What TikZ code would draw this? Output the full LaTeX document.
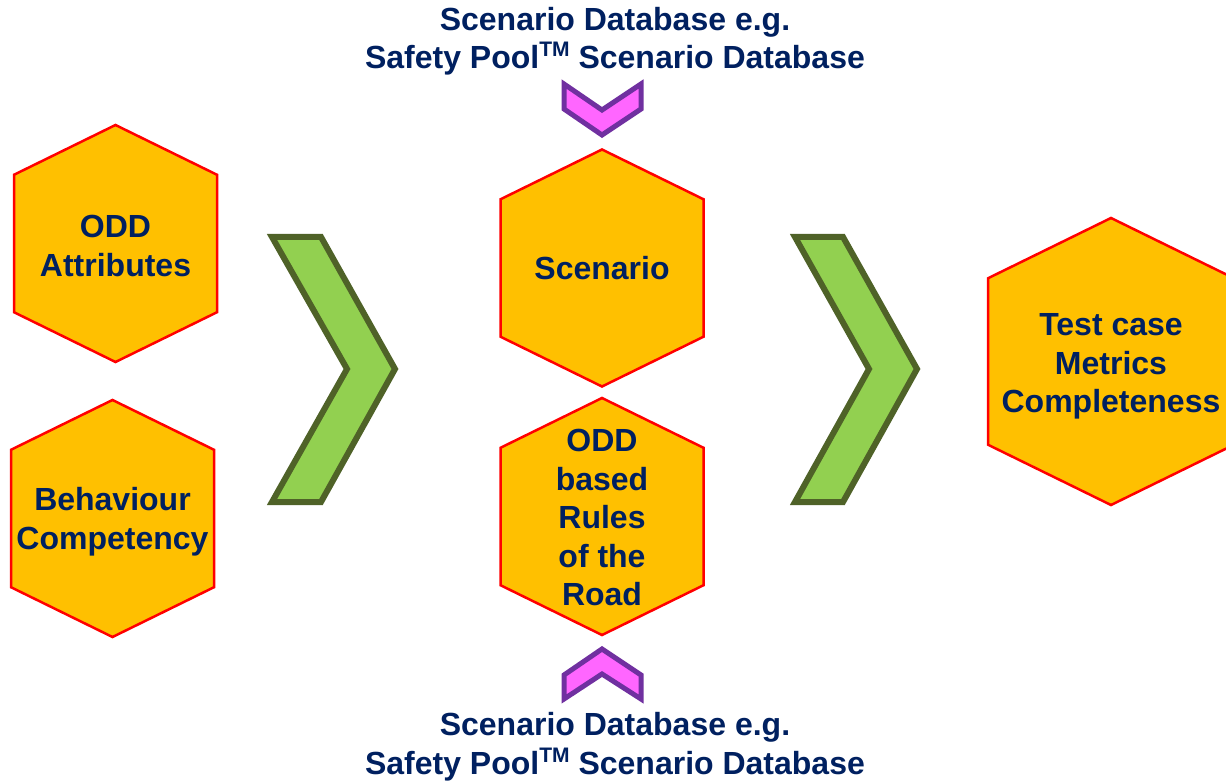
\documentclass[tikz,border=0pt]{standalone}
\usepackage{fontspec}
\setmainfont{Liberation Sans}
\usetikzlibrary{calc,backgrounds}
\definecolor{navy}{HTML}{002060}
\definecolor{hexfill}{HTML}{FFC000}
\definecolor{hexred}{HTML}{FF0000}
\definecolor{leaf}{HTML}{92D050}
\definecolor{olive}{HTML}{4F6228}
\definecolor{pinkfill}{HTML}{FF66FF}
\definecolor{plum}{HTML}{7030A0}
\newcommand\sptm{\raisebox{.36em}{\fontsize{21}{21}\selectfont TM}}

\begin{document}
\begin{tikzpicture}[x=1pt,y=-1pt,every node/.style={text=navy,font=\bfseries\fontsize{32}{38.5}\selectfont,align=center,inner sep=0pt,outer sep=0pt},
hexcell/.style={minimum width=203pt,minimum height=237pt},
bighex/.style={minimum width=246pt,minimum height=287pt},
hexline/.style={draw=hexred,fill=hexfill,line width=2.5pt},
bigarrow/.style={draw=olive,fill=leaf,line width=6pt},
smallarrow/.style={draw=plum,fill=pinkfill,line width=5pt}]
\useasboundingbox (0,0) rectangle (1226,783);
\node [hexcell,label={[yshift=-2.5pt]center:{ODD\\Attributes}}] (odd) at (115.5,243.5) {};
\node [hexcell,label={[yshift=-3pt]center:{Behaviour\\Competency}}] (behav) at (112.5,518.5) {};
\node [hexcell,label={center:Scenario}] (scen) at (602,268) {};
\node [hexcell,label={[yshift=-1pt]center:{ODD\\based\\Rules\\of the\\Road}}] (rules) at (602,516.5) {};
\node [bighex,label={[yshift=-5pt]center:{Test case\\Metrics\\Completeness}}] (test) at (1111,361.5) {};
\node (topdb) at (615,41) {Scenario Database e.g.\\Safety Pool\sptm{} Scenario Database};
\node (botdb) at (615,746.5) {Scenario Database e.g.\\Safety Pool\sptm{} Scenario Database};
% hexagons behind the text
\begin{scope}[on background layer]
\foreach \n in {odd,behav,scen,rules,test}
  \draw [hexline] (\n.north) -- ($(\n.north east)!.21!(\n.south east)$) -- ($(\n.north east)!.79!(\n.south east)$)
    -- (\n.south) -- ($(\n.north west)!.79!(\n.south west)$) -- ($(\n.north west)!.21!(\n.south west)$) -- cycle;
\end{scope}
% chevrons
\draw [bigarrow] (272,237) -- (321,237) -- (395,369) -- (321,502) -- (272,502) -- (347,369) -- cycle;
\draw [bigarrow] (795,237) -- (843,237) -- (917,369) -- (843,502) -- (795,502) -- (869,369) -- cycle;
\draw [smallarrow] (564,84) -- (602,110) -- (641,84) -- (641,109) -- (602,135) -- (564,109) -- cycle;
\draw [smallarrow] (602,649) -- (641,675) -- (641,699) -- (602,674) -- (564,699) -- (564,675) -- cycle;
\end{tikzpicture}
\end{document}
